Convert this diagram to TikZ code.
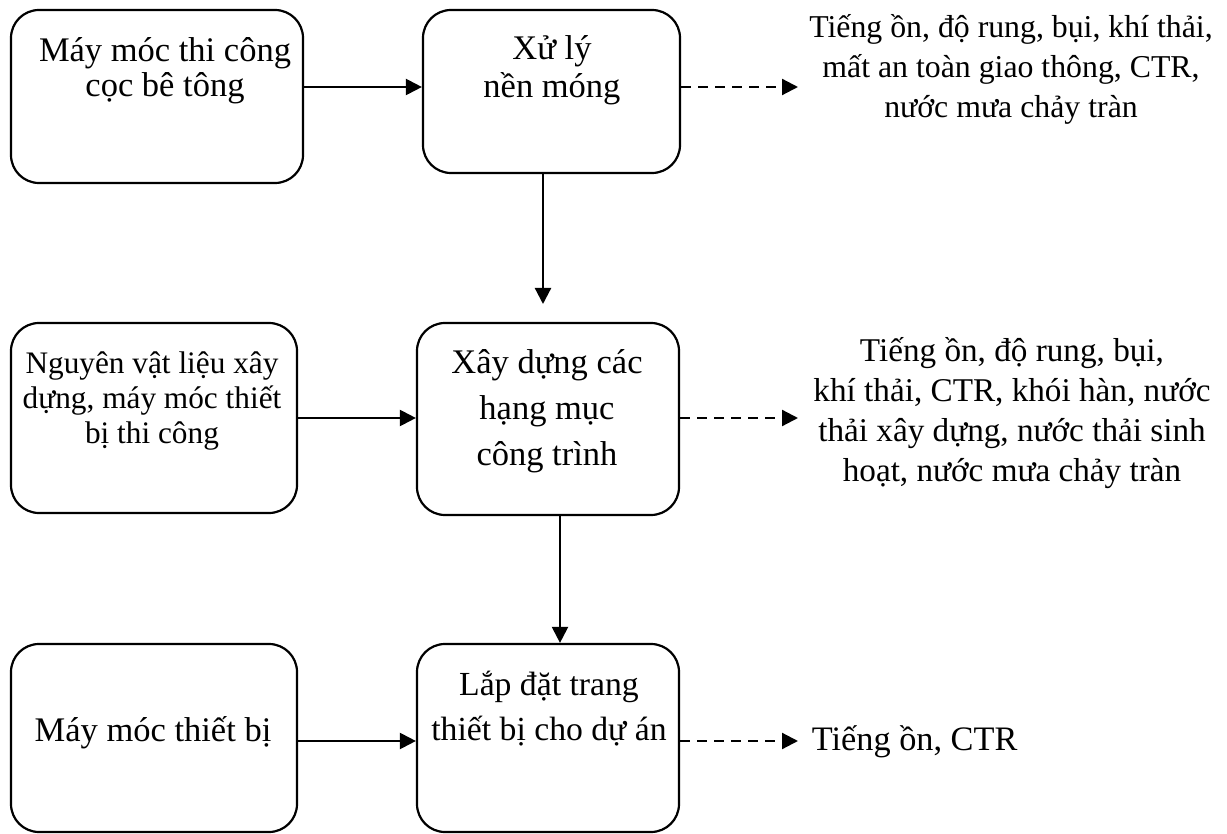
\documentclass[tikz,border=0pt]{standalone}
\usepackage{fontspec}
\setmainfont{Liberation Serif}
\usetikzlibrary{arrows.meta}
\begin{document}
% keep line distances fixed even with stacked Vietnamese accents
\lineskiplimit=-100pt\relax
\begin{tikzpicture}[x=1pt,y=-1pt,
  stage/.style={draw, line width=2.2pt, rounded corners=28pt, inner sep=0pt},
  words/.style={align=center, inner sep=0pt, anchor=base,
    font=\fontsize{34.5}{#1}\selectfont},
  sized/.style 2 args={words=#2, font=\fontsize{#1}{#2}\selectfont},
  flow/.style={line width=2.2pt, -{Triangle[length=16pt,width=16pt]}},
  emit/.style={flow, dash pattern=on 10pt off 7pt}]
\useasboundingbox (0,0) rectangle (1227,834);

% process boxes
\node[stage, minimum width=292pt, minimum height=173pt] (b1) at (157,96.5) {};
\node[stage, minimum width=257pt, minimum height=163pt] (b2) at (551.5,91.5) {};
\node[stage, minimum width=286pt, minimum height=190pt] (b3) at (154,418) {};
\node[stage, minimum width=262pt, minimum height=192pt] (b4) at (548,419) {};
\node[stage, minimum width=286pt, minimum height=188pt] (b5) at (154,738) {};
\node[stage, minimum width=262pt, minimum height=188pt] (b6) at (548,738) {};

% box texts (anchored at the baseline of the last line)
\node[words=35] (t1) at (165,97) {Máy móc thi công\\cọc bê tông};
\node[words=38] (t2) at (552,98) {Xử lý\hspace{26pt}\\nền móng};
\node[sized={31.3}{35}] (t3) at (152,443) {Nguyên vật liệu xây\\dựng, máy móc thiết\\bị thi công};
\node[words=46] (t4) at (547,465) {Xây dựng các\\hạng mục\\công trình};
\node[words=35] (t5) at (153,741) {Máy móc thiết bị};
\node[sized={33.7}{45}] (t6) at (549,740) {Lắp đặt trang\\thiết bị cho dự án};

% emissions
\node[sized={31.8}{40}] (r1) at (1011,118) {Tiếng ồn, độ rung, bụi, khí thải,\\mất an toàn giao thông, CTR,\\nước mưa chảy tràn};
\node[sized={33.2}{40}] (r2) at (1012,481) {Tiếng ồn, độ rung, bụi,\\khí thải, CTR, khói hàn, nước\\thải xây dựng, nước thải sinh\\hoạt, nước mưa chảy tràn};
\node[sized={34.3}{35}, anchor=base west] (r3) at (811.7,750.7) {Tiếng ồn, CTR};

% connectors
\coordinate (h1) at (0,87);
\coordinate (h2) at (0,418);
\coordinate (h3) at (0,741);
\coordinate (e1) at (798,87);
\coordinate (e2) at (798,418);
\coordinate (e3) at (798,741);
\coordinate (v1) at (543,304);
\coordinate (v2) at (560,0);

\draw[flow] (b1.east |- h1) -- (b2.west |- h1);
\draw[emit] (b2.east |- e1) -- (e1);
\draw[flow] (v1 |- b2.south) -- (v1);
\draw[flow] (b3.east |- h2) -- (b4.west |- h2);
\draw[emit] (b4.east |- e2) -- (e2);
\draw[flow] (v2 |- b4.south) -- (v2 |- b6.north);
\draw[flow] (b5.east |- h3) -- (b6.west |- h3);
\draw[emit] (b6.east |- e3) -- (e3);
\end{tikzpicture}
\end{document}
